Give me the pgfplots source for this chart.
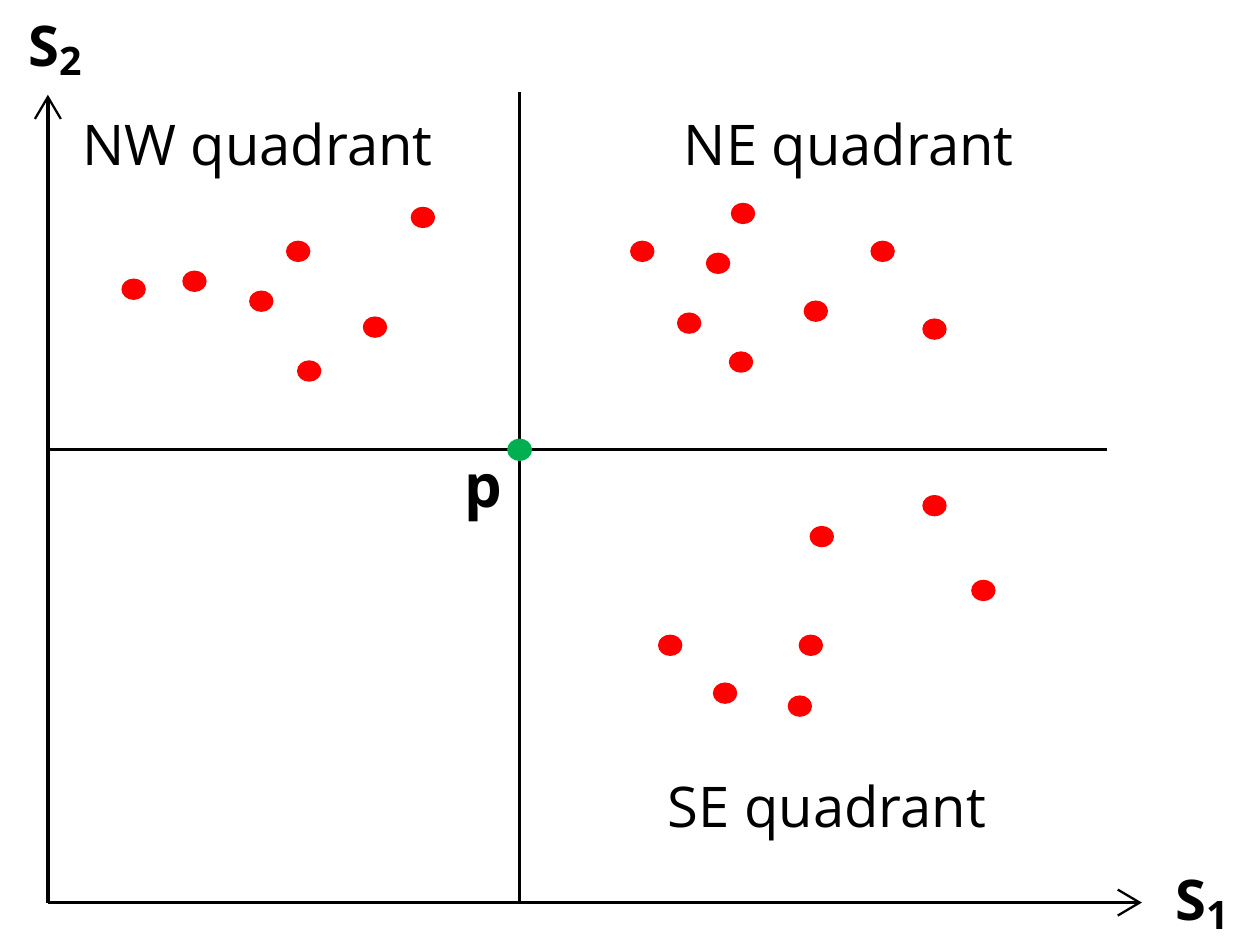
\documentclass[border=0pt]{standalone}
\usepackage{pgfplots}
\pgfplotsset{compat=1.18}
\usetikzlibrary{arrows.meta}
\usepackage{fontspec}
\setmainfont{Open Sans}
\definecolor{ptred}{RGB}{255,0,0}
\definecolor{ptgreen}{RGB}{0,176,80}
\begin{document}
\begin{tikzpicture}
\begin{axis}[
  scale only axis, width=12.42cm, height=9.51cm,
  xmin=0, xmax=1242, ymin=0, ymax=951,
  axis lines=none, clip=false,
]
\path (axis cs:0,0) rectangle (axis cs:1242,951);
% axes
\draw[line width=1pt, -{Straight Barb[length=2.2mm, width=2.6mm, line width=0.65pt]}] (axis cs:48,46) -- (axis cs:48,856);
\draw[line width=1pt, -{Straight Barb[length=2.2mm, width=2.6mm, line width=0.65pt]}] (axis cs:48,46) -- (axis cs:1145,46);
% quadrant lines
\draw[line width=0.75pt] (axis cs:521,46) -- (axis cs:521,859);
\draw[line width=0.75pt] (axis cs:48,500) -- (axis cs:1110,500);
% points
\addplot[only marks, mark=*, mark size=1mm, mark options={xscale=1.15, fill=ptred, draw=ptred}] coordinates {
(134,661) (195,669) (262,649) (299,699) (310,579) (376,623) (424,733)
(644,699) (720,687) (745,737) (691,627) (743,588) (818,639) (885,699) (937,621)
(937,444) (824,413) (986,359) (672,304) (813,304) (727,256) (802,243)
};
\addplot[only marks, mark=*, mark size=1.05mm, mark options={xscale=1.12, fill=ptgreen, draw=ptgreen}] coordinates {(521,500)};
% labels
\node[font=\fontsize{16}{20}\selectfont] at (axis cs:258,800) {NW quadrant};
\node[font=\fontsize{16}{20}\selectfont] at (axis cs:851,800) {NE quadrant};
\node[font=\fontsize{16}{20}\selectfont] at (axis cs:829,136) {SE quadrant};
\node[font=\fontsize{17}{20}\selectfont\bfseries] at (axis cs:485,452) {p};
\node[font=\fontsize{16}{20}\selectfont\bfseries, anchor=west] at (axis cs:16,900) {S$_{\mathbf{2}}$};
\node[font=\fontsize{16}{20}\selectfont\bfseries, anchor=west] at (axis cs:1166,44) {S$_{\mathbf{1}}$};
\end{axis}
\end{tikzpicture}
\end{document}
